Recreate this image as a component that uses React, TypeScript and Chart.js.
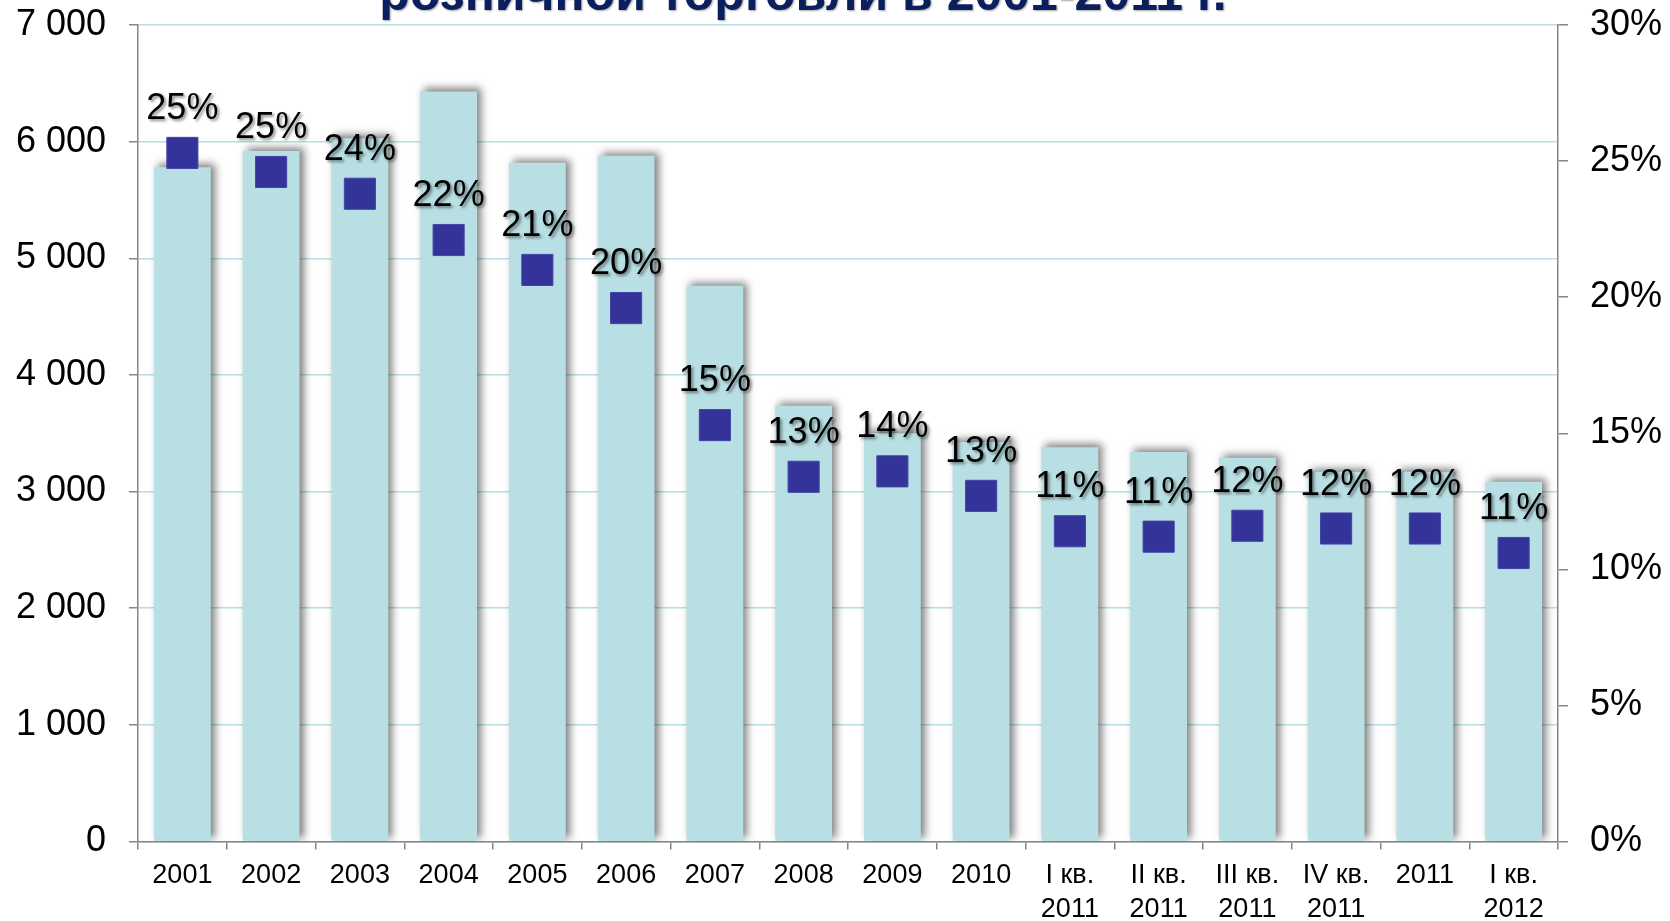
import React, { useEffect, useRef } from 'react';
import { Chart, registerables } from 'chart.js';

Chart.register(...registerables);

const FONT = '"Liberation Sans", Arial, sans-serif';

const titleText = 'розничной торговли в 2001-2011 г.';

const categories: (string | string[])[] = [
  '2001', '2002', '2003', '2004', '2005', '2006', '2007', '2008', '2009', '2010',
  ['I кв.', '2011'], ['II кв.', '2011'], ['III кв.', '2011'], ['IV кв.', '2011'],
  '2011', ['I кв.', '2012'],
];

const barValues = [5780, 5920, 6030, 6430, 5820, 5880, 4765, 3735, 3500, 3425, 3380, 3340, 3290, 3170, 3170, 3085];

const shareValues = [25.3, 24.6, 23.8, 22.1, 21.0, 19.6, 15.3, 13.4, 13.6, 12.7, 11.4, 11.2, 11.6, 11.5, 11.5, 10.6];

const shareLabels = ['25%', '25%', '24%', '22%', '21%', '20%', '15%', '13%', '14%', '13%', '11%', '11%', '12%', '12%', '12%', '11%'];

const leftTicks = { min: 0, max: 7000, step: 1000 };
const rightTicks = { min: 0, max: 30, step: 5 };

const fmtThousands = (v: number) => String(v).replace(/\B(?=(\d{3})+(?!\d))/g, ' ');

const barShadowPlugin = {
  id: 'barShadow',
  beforeDatasetDraw(chart: any, args: any) {
    if (args.meta.type === 'bar') {
      const ctx = chart.ctx;
      ctx.save();
      ctx.shadowColor = 'rgba(0,0,0,0.5)';
      ctx.shadowBlur = 8;
      ctx.shadowOffsetX = 4;
      ctx.shadowOffsetY = -3;
    }
  },
  afterDatasetDraw(chart: any, args: any) {
    if (args.meta.type === 'bar') chart.ctx.restore();
  },
};

const pointLabelPlugin = {
  id: 'pointLabels',
  afterDatasetsDraw(chart: any) {
    const meta = chart.getDatasetMeta(1);
    const ctx = chart.ctx;
    ctx.save();
    ctx.font = `36px ${FONT}`;
    ctx.textAlign = 'center';
    ctx.textBaseline = 'alphabetic';
    ctx.fillStyle = '#000000';
    ctx.shadowColor = 'rgba(0,0,0,0.45)';
    ctx.shadowBlur = 3;
    ctx.shadowOffsetX = 2;
    ctx.shadowOffsetY = 2;
    meta.data.forEach((pt: any, i: number) => {
      ctx.fillText(shareLabels[i], pt.x, pt.y - 34);
    });
    ctx.restore();
  },
};

const titlePlugin = {
  id: 'clippedTitle',
  afterDraw(chart: any) {
    const ctx = chart.ctx;
    ctx.save();
    ctx.font = `bold 50px ${FONT}`;
    ctx.textAlign = 'center';
    ctx.textBaseline = 'alphabetic';
    ctx.fillStyle = '#0b1f5e';
    ctx.shadowColor = 'rgba(0,0,0,0.35)';
    ctx.shadowBlur = 2;
    ctx.shadowOffsetX = 1;
    ctx.shadowOffsetY = 1;
    ctx.fillText(titleText, 803, 10);
    ctx.restore();
  },
};

const fixVertical = (w: number) => (s: any) => {
  s.width = w;
  s.paddingTop = 0;
  s.paddingBottom = 0;
};

export default function App() {
  const canvasRef = useRef<HTMLCanvasElement | null>(null);

  useEffect(() => {
    const canvas = canvasRef.current;
    if (!canvas) return;
    const chart = new Chart(canvas, {
      type: 'bar',
      data: {
        labels: categories,
        datasets: [
          {
            type: 'bar',
            data: barValues,
            backgroundColor: '#B8DFE3',
            borderWidth: 0,
            yAxisID: 'y',
            order: 2,
            categoryPercentage: 1,
            barPercentage: 0.64,
          },
          {
            type: 'line',
            data: shareValues,
            yAxisID: 'y1',
            showLine: false,
            pointStyle: 'rect',
            pointRadius: 22,
            pointHoverRadius: 22,
            pointBackgroundColor: '#333399',
            pointBorderColor: '#4343a8',
            pointBorderWidth: 1,
            order: 1,
          },
        ] as any,
      },
      options: {
        responsive: false,
        animation: false,
        events: [],
        layout: { padding: { top: 25, left: 0, right: 0, bottom: 0 } },
        plugins: { legend: { display: false }, tooltip: { enabled: false }, title: { display: false } },
        scales: {
          x: {
            grid: { drawOnChartArea: false, tickLength: 8, tickColor: '#868686', lineWidth: 1.5, offset: true },
            border: { color: '#868686', width: 1.5 },
            ticks: { font: { size: 27, family: FONT, lineHeight: 1.27 }, color: '#000000', padding: 9, maxRotation: 0, autoSkip: false },
            afterFit(s: any) { s.height = 79.5; s.paddingLeft = 0; s.paddingRight = 0; },
          },
          y: {
            position: 'left',
            min: leftTicks.min,
            max: leftTicks.max,
            ticks: {
              stepSize: leftTicks.step,
              callback: (v: any) => fmtThousands(Number(v)),
              font: { size: 36, family: FONT },
              color: '#000000',
              padding: 23,
            },
            grid: { color: '#B8DFE3', lineWidth: 1.5, tickColor: '#868686', tickLength: 9 },
            border: { color: '#868686', width: 1.5 },
            afterFit: fixVertical(138),
          },
          y1: {
            position: 'right',
            min: rightTicks.min,
            max: rightTicks.max,
            ticks: {
              stepSize: rightTicks.step,
              callback: (v: any) => `${v}%`,
              font: { size: 36, family: FONT },
              color: '#000000',
              padding: 22,
            },
            grid: { drawOnChartArea: false, tickColor: '#868686', tickLength: 10, lineWidth: 1.5 },
            border: { color: '#868686', width: 1.5 },
            afterFit: fixVertical(112),
          },
        },
      } as any,
      plugins: [barShadowPlugin, pointLabelPlugin, titlePlugin],
    });
    return () => chart.destroy();
  }, []);

  return (
    <div style={{ position: 'absolute', left: 0, top: 0, width: 1670, height: 921, background: '#ffffff' }}>
      <canvas ref={canvasRef} width={1670} height={921} style={{ display: 'block' }} />
    </div>
  );
}
